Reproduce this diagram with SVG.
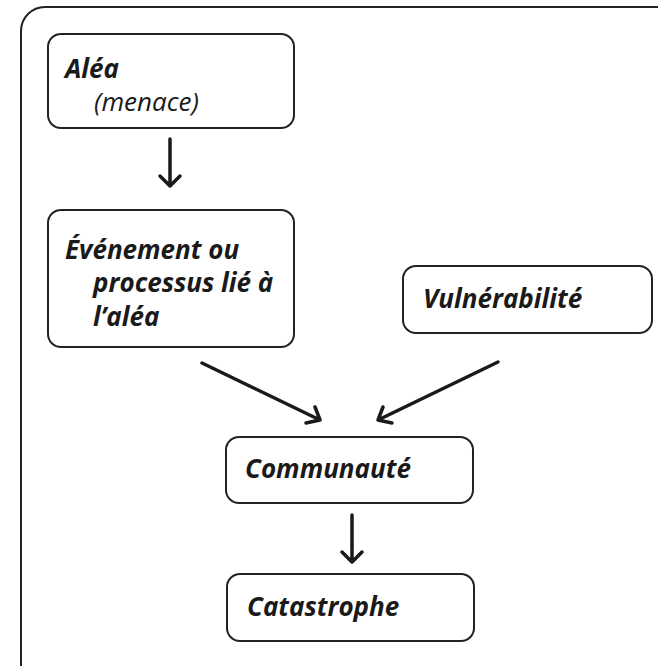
<svg xmlns="http://www.w3.org/2000/svg" width="658" height="666" viewBox="0 0 658 666">
  <defs>
    <style>
      .frame { fill: none; stroke: #222; stroke-width: 2; }
      .box { fill: #fff; stroke: #222; stroke-width: 2; }
      .lbl { font-family: "Open Sans", "Noto Sans", sans-serif; font-size: 26px; font-style: italic; font-weight: 700; fill: #1a1a1a; }
      .sub { font-weight: 400; }
      .arrow { fill: none; stroke: #1a1a1a; stroke-width: 3.5; stroke-linecap: round; stroke-linejoin: round; }
    </style>
  </defs>

  <rect width="658" height="666" fill="#fff"/>

  <!-- outer frame, runs past the right and bottom edges -->
  <rect class="frame" x="21" y="7" width="664" height="682" rx="24"/>

  <g id="alea">
    <rect class="box" x="48" y="34" width="246" height="94" rx="13"/>
    <text class="lbl" x="65" y="78">Aléa</text>
    <text class="lbl sub" x="94" y="111">(menace)</text>
  </g>

  <g id="evenement">
    <rect class="box" x="48" y="210" width="246" height="137" rx="13"/>
    <text class="lbl" x="65" y="259">Événement ou</text>
    <text class="lbl" x="93" y="292">processus lié à</text>
    <text class="lbl" x="93" y="326">l’aléa</text>
  </g>

  <g id="vulnerabilite">
    <rect class="box" x="403" y="266" width="249" height="67" rx="13"/>
    <text class="lbl" x="423" y="308">Vulnérabilité</text>
  </g>

  <g id="communaute">
    <rect class="box" x="226" y="437" width="247" height="66" rx="13"/>
    <text class="lbl" x="245" y="478">Communauté</text>
  </g>

  <g id="catastrophe">
    <rect class="box" x="227" y="574" width="247" height="67" rx="13"/>
    <text class="lbl" x="247" y="616">Catastrophe</text>
  </g>

  <g id="connectors">
    <!-- Aléa to Événement -->
    <path class="arrow" d="M170 139 V186 M160 176 L170 186 L180 176"/>
    <!-- Événement to Communauté -->
    <path class="arrow" d="M202 363 L320 420 M306 423 L320 420 L315 407"/>
    <!-- Vulnérabilité to Communauté -->
    <path class="arrow" d="M498 362 L378 420 M383 407 L378 420 L392 423"/>
    <!-- Communauté to Catastrophe -->
    <path class="arrow" d="M352 515 V562 M342 552 L352 562 L362 552"/>
  </g>
</svg>
